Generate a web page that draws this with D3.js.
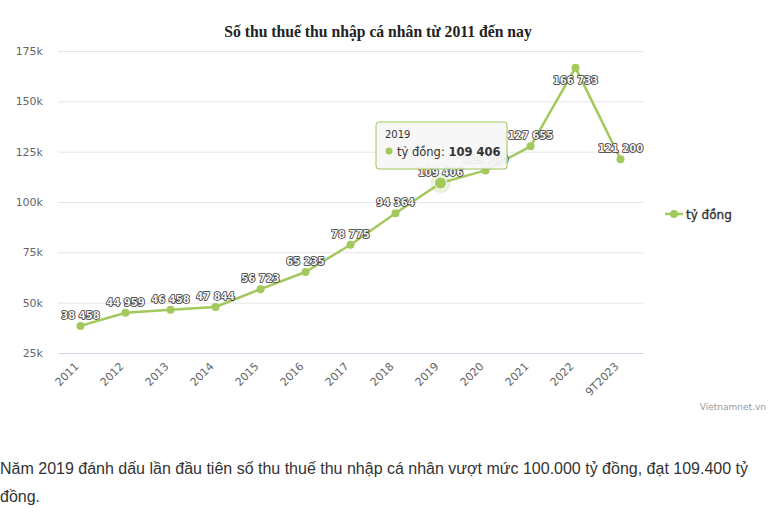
<!DOCTYPE html>
<html><head><meta charset="utf-8">
<script src="https://cdn.jsdelivr.net/npm/d3@7"></script>
<style>body{margin:0;background:#fff;} svg{display:block;}</style>
</head><body>
<svg id="c" width="770" height="513"></svg>
<script>
const categories = ["2011","2012","2013","2014","2015","2016","2017","2018","2019","2020","2021","2022","9T2023"];
const values = [38458,44959,46458,47844,56723,65235,78775,94364,109406,115700,127655,166733,121200];
const yTicks = [25000,50000,75000,100000,125000,150000,175000];
const seriesName = "tỷ đồng";
const hoverIndex = 8;

const color = "#a3c85c";
const svg = d3.select("#c");
const pLeft = 58, pRight = 643, pTop = 51, pBottom = 353;
const x = d3.scaleBand().domain(categories).range([pLeft, pRight]);
const y = d3.scaleLinear().domain([25000,175000]).range([pBottom, pTop]);
const cx = d => x(d) + x.bandwidth()/2;
const fmt = v => d3.format(",")(v).replace(/,/g, " ");
const sans = "'DejaVu Sans', Verdana, sans-serif";

// title
svg.append("text").attr("x", 378).attr("y", 37).attr("text-anchor","middle")
  .attr("font-family","'Liberation Serif', 'Times New Roman', serif").attr("font-weight","bold")
  .attr("font-size", 15.7).attr("fill","#222").text("Số thu thuế thu nhập cá nhân từ 2011 đến nay");

// grid
const yAxis = d3.axisLeft(y).tickValues(yTicks).tickSize(-(pRight-pLeft)).tickFormat(d => (d/1000) + "k");
const gy = svg.append("g").attr("transform", `translate(${pLeft},0)`).call(yAxis);
gy.select(".domain").remove();
gy.selectAll(".tick line").attr("stroke","#e6e6e6");
gy.selectAll(".tick text").attr("x",-15).attr("fill","#666").attr("font-size",11).attr("font-family",sans);

// x axis
const xAxis = d3.axisBottom(x).tickSize(0);
const gx = svg.append("g").attr("transform", `translate(0,${pBottom})`).call(xAxis);
gx.select(".domain").attr("stroke","#ccd6eb");
gx.selectAll(".tick text").attr("fill","#666").attr("font-size",11).attr("font-family",sans)
  .attr("text-anchor","end").attr("dy",0).attr("y",0)
  .attr("transform","translate(-1,14) rotate(-45)");

// line
const line = d3.line().x((d,i)=>cx(categories[i])).y(d=>y(d));
svg.append("path").datum(values).attr("d", line).attr("fill","none")
  .attr("stroke", color).attr("stroke-width", 2.5).attr("stroke-linejoin","round");

// markers
svg.append("g").selectAll("circle").data(values).join("circle")
  .attr("cx",(d,i)=>cx(categories[i])).attr("cy",d=>y(d)).attr("r",4).attr("fill",color);

// hover halo
svg.append("circle").attr("cx",cx(categories[hoverIndex])).attr("cy",y(values[hoverIndex]))
  .attr("r",10).attr("fill",color).attr("opacity",0.25);
svg.append("circle").attr("cx",cx(categories[hoverIndex])).attr("cy",y(values[hoverIndex]))
  .attr("r",6).attr("fill",color).attr("stroke","#fff").attr("stroke-width",1);

// data labels
svg.append("g").selectAll("text").data(values).join("text")
  .attr("x",(d,i)=>cx(categories[i]))
  .attr("y",d => { const py = y(d); return (py - 22 < pTop) ? py + 16 : py - 7; })
  .attr("text-anchor","middle").attr("font-family",sans).attr("font-weight","bold")
  .attr("font-size",10).attr("fill","#f4f4f4").attr("stroke","#333").attr("stroke-width",1.6)
  .attr("paint-order","stroke").attr("stroke-linejoin","round").text(d=>fmt(d));

// tooltip
const tt = svg.append("g").attr("transform","translate(376,122)");
tt.append("rect").attr("x",1).attr("y",1).attr("width",131).attr("height",47).attr("rx",3)
  .attr("fill","#000").attr("opacity",0.06);
tt.append("rect").attr("width",131).attr("height",47).attr("rx",3)
  .attr("fill","rgba(247,247,247,0.92)").attr("stroke",color).attr("stroke-width",1);
tt.append("text").attr("x",9).attr("y",16).attr("font-family",sans).attr("font-size",10)
  .attr("fill","#333").text(categories[hoverIndex]);
tt.append("circle").attr("cx",13).attr("cy",29).attr("r",3.5).attr("fill",color);
const t2 = tt.append("text").attr("x",21).attr("y",34).attr("font-family",sans).attr("font-size",11.5).attr("fill","#333");
t2.append("tspan").text(seriesName + ": ");
t2.append("tspan").attr("font-weight","bold").attr("font-size",11.5).text(fmt(values[hoverIndex]));

// legend
const lg = svg.append("g").attr("transform","translate(665,214)");
lg.append("line").attr("x1",0).attr("x2",18).attr("stroke",color).attr("stroke-width",2.5);
lg.append("circle").attr("cx",9).attr("r",4).attr("fill",color);
lg.append("text").attr("x",21).attr("y",4.5).attr("font-family",sans).attr("font-size",12)
  .attr("fill","#333").attr("stroke","#333").attr("stroke-width",0.35).text(seriesName);

// credits
svg.append("text").attr("x",766).attr("y",410).attr("text-anchor","end").attr("font-family",sans)
  .attr("font-size",9).attr("fill","#999").text("Vietnamnet.vn");

// caption
const cap = svg.append("text").attr("font-family","'Liberation Sans', Arial, sans-serif").attr("font-size",16).attr("fill","#333");
cap.append("tspan").attr("x",0).attr("y",474).text("Năm 2019 đánh dấu lần đầu tiên số thu thuế thu nhập cá nhân vượt mức 100.000 tỷ đồng, đạt 109.400 tỷ");
cap.append("tspan").attr("x",0).attr("y",502).text("đồng.");
</script>
</body></html>
